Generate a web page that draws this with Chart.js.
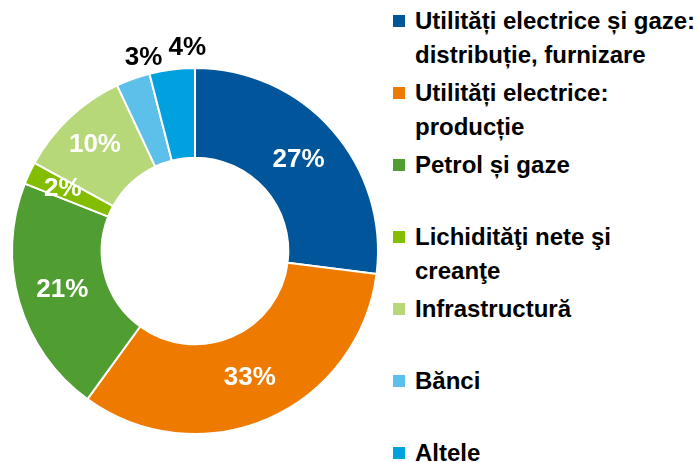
<!DOCTYPE html>
<html>
<head>
<meta charset="utf-8">
<script src="https://cdn.jsdelivr.net/npm/chart.js@4/dist/chart.umd.min.js"></script>
<style>
  html, body { margin: 0; padding: 0; background: #fff; }
  body { width: 698px; height: 462px; position: relative; overflow: hidden;
         font-family: "Liberation Sans Narrow", "Arial Narrow", "Liberation Sans", sans-serif; }
  #wrap { position: absolute; left: 0; top: 0; width: 390px; height: 462px; }
  #legend { position: absolute; left: 0; top: 0; }
  .item { position: absolute; left: 393px; font-weight: bold; font-size: 24px; line-height: 34px; color: #000; white-space: nowrap; }
  .item .box { position: absolute; left: 0; top: 11px; width: 12px; height: 12px; }
  .item .txt { position: absolute; left: 22px; top: 0; }
</style>
</head>
<body>
<div id="wrap"><canvas id="pie"></canvas></div>
<div id="legend"></div>
<script>
// date
const labels = [
  ["Utilități electrice și gaze:", "distribuție, furnizare"],
  ["Utilități electrice:", "producție"],
  ["Petrol și gaze"],
  ["Lichidităţi nete şi", "creanţe"],
  ["Infrastructură"],
  ["Bănci"],
  ["Altele"]
];
const values = [27, 33, 21, 2, 10, 3, 4];
const colors = ["#00559B", "#EF7A00", "#509E31", "#84BD00", "#B6D878", "#5DC0EB", "#00A1DE"];
// etichete negre in afara inelului
const outside = [false, false, false, false, false, true, true];

// legenda html
const leg = document.getElementById("legend");
labels.forEach((l, i) => {
  const d = document.createElement("div");
  d.className = "item";
  d.style.top = (4 + 72 * i) + "px";
  d.innerHTML = `<span class="box" style="background:${colors[i]}"></span><span class="txt">${l.join("<br>")}</span>`;
  leg.appendChild(d);
});

const pctLabels = {
  id: "pctLabels",
  afterDatasetsDraw(chart) {
    const ctx = chart.ctx;
    const meta = chart.getDatasetMeta(0);
    ctx.save();
    ctx.font = "bold 26px 'Liberation Sans Narrow', 'Arial Narrow', sans-serif";
    ctx.textAlign = "center";
    ctx.textBaseline = "middle";
    meta.data.forEach((arc, i) => {
      const p = arc.getProps(["x", "y", "startAngle", "endAngle", "innerRadius", "outerRadius"], true);
      const mid = (p.startAngle + p.endAngle) / 2;
      let r = (p.innerRadius + p.outerRadius) / 2;
      let x, y;
      if (outside[i]) {
        r = p.outerRadius + 22;
        x = p.x + Math.cos(mid) * r + 18;
        y = p.y + Math.sin(mid) * r;
        ctx.fillStyle = "#000";
      } else {
        // felii mici: eticheta putin mai spre exterior
        if (values[i] <= 10) r += 8;
        x = p.x + Math.cos(mid) * r;
        y = p.y + Math.sin(mid) * r;
        ctx.fillStyle = "#fff";
      }
      ctx.fillText(values[i] + "%", x, y);
    });
    ctx.restore();
  }
};

new Chart(document.getElementById("pie"), {
  type: "doughnut",
  data: {
    labels: labels.map(l => l.join(" ")),
    datasets: [{
      data: values,
      backgroundColor: colors,
      borderColor: "#fff",
      borderWidth: 2,
      hoverOffset: 0
    }]
  },
  options: {
    responsive: true,
    maintainAspectRatio: false,
    animation: false,
    cutout: "51%",
    layout: { padding: { left: 11, right: 11, top: 67, bottom: 27 } },
    plugins: { legend: { display: false }, tooltip: { enabled: false } }
  },
  plugins: [pctLabels]
});
</script>
</body>
</html>
